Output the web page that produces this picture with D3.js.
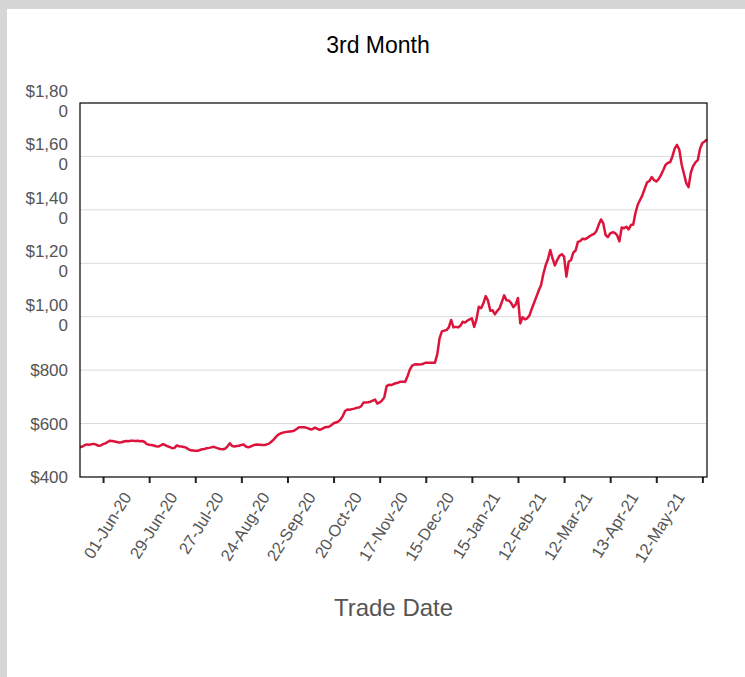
<!DOCTYPE html>
<head>
<meta charset="utf-8">
<style>
body { margin: 0; background: #d6d6d6; }
text { font-family: "Liberation Sans", Arial, sans-serif; }
.grid line { stroke: #dadada; stroke-width: 1px; }
.ylab { fill: #555; font-size: 17px; }
.xlab { fill: #555; font-size: 16.5px; }
</style>
</head>
<body>
<div id="mainDiv" style="width: 745px; height: 677px;">
<script src="https://d3js.org/d3.v7.min.js"></script>
<script>

var width = 745;
var height = 677;

// price per trading day
var prices = [
  511, 514, 519, 522, 521, 523, 524, 521, 517, 518,
  523, 526, 531, 536, 535, 533, 531, 529, 530, 533,
  535, 534, 536, 536, 535, 536, 534, 535, 531, 523,
  521, 520, 518, 515, 514, 518, 523, 519, 515, 512,
  508, 509, 518, 515, 514, 512, 510, 504, 500, 499,
  498, 498, 501, 504, 505, 508, 509, 511, 513, 510,
  507, 505, 504, 506, 515, 526, 516, 514, 516, 517,
  520, 522, 514, 511, 514, 518, 521, 522, 521, 520,
  520, 522, 525, 532, 540, 550, 558, 563, 566, 568,
  569, 570, 571, 574, 580, 586, 586, 586, 585, 582,
  578, 580, 585, 580, 576, 580, 585, 587, 588, 594,
  601, 604, 607, 615, 628, 647, 653, 652, 654, 656,
  659, 660, 665, 679, 679, 680, 682, 686, 690, 675,
  679, 686, 698, 740, 745, 744, 748, 751, 753, 757,
  757, 756, 775, 800, 816, 821, 822, 821, 822, 824,
  828, 828, 828, 828, 828, 860, 920, 945, 948, 950,
  960, 988, 960, 962, 960, 966, 981, 978, 985, 990,
  994, 962, 990, 1037, 1032, 1050, 1077, 1060, 1022, 1024,
  1009, 1022, 1031, 1055, 1080, 1062, 1061, 1052, 1036, 1045,
  1070, 975, 998, 990, 994, 1005, 1030, 1052, 1075, 1098,
  1118, 1160, 1192, 1215, 1250, 1218, 1192, 1212, 1228, 1234,
  1225, 1150, 1206, 1212, 1240, 1248, 1280, 1283, 1292, 1290,
  1294, 1301, 1306, 1310, 1320, 1344, 1364, 1350, 1306, 1298,
  1312, 1316, 1314, 1305, 1282, 1334, 1331, 1337, 1327, 1343,
  1345, 1390, 1420, 1438, 1455, 1480, 1503, 1508, 1523, 1512,
  1506, 1515, 1530, 1548, 1568, 1576, 1578, 1600, 1630, 1643,
  1625, 1570, 1535, 1500, 1485, 1540, 1564, 1578, 1586, 1630,
  1650, 1656, 1664
];

// category axis: a labelled tick every 20 trading days
var tickIndex = [10, 30, 50, 70, 90, 110, 130, 150, 170, 190, 210, 230, 250, 270];
var tickLabels = ["01-Jun-20", "29-Jun-20", "27-Jul-20", "24-Aug-20", "22-Sep-20", "20-Oct-20",
  "17-Nov-20", "15-Dec-20", "15-Jan-21", "12-Feb-21", "12-Mar-21", "13-Apr-21", "12-May-21", ""];

var yTicks = [400, 600, 800, 1000, 1200, 1400, 1600, 1800];

var plotL = 80, plotR = 707, plotT = 103, plotB = 477;

var svg = d3.select("#mainDiv").append("svg")
    .attr("width", width)
    .attr("height", height);

svg.append("rect")
    .attr("x", 7).attr("y", 9)
    .attr("width", width - 7).attr("height", height - 9)
    .style("fill", "white");

var x = d3.scaleLinear().domain([0, prices.length - 1]).range([plotL, plotR]);
var y = d3.scaleLinear().domain([400, 1800]).range([plotB, plotT]);

// gridlines
svg.append("g")
    .attr("class", "grid")
    .selectAll("line")
    .data(yTicks.filter(function(d) { return d > 400 && d < 1800; }))
    .enter().append("line")
    .attr("x1", plotL).attr("x2", plotR)
    .attr("y1", function(d) { return y(d); })
    .attr("y2", function(d) { return y(d); });

// y labels, the long ones wrap onto two lines like the original
var fmt = d3.format("$,");
var ylab = svg.append("g").selectAll("text")
    .data(yTicks)
    .enter().append("text")
    .attr("class", "ylab")
    .attr("text-anchor", "end")
    .attr("x", plotL - 12)
    .attr("y", function(d) { return y(d); });

ylab.each(function(d) {
  var s = fmt(d);
  var t = d3.select(this);
  if (s.length > 4) {
    t.append("tspan").attr("x", plotL - 12).attr("dy", -6).text(s.slice(0, -1));
    t.append("tspan").attr("x", plotL - 12).attr("dy", 20).text(s.slice(-1));
  } else {
    t.attr("dy", 6).text(s);
  }
});

// x ticks
var xAxis = d3.axisBottom(x)
    .tickValues(tickIndex)
    .tickSize(6)
    .tickFormat("");

svg.append("g")
    .attr("transform", "translate(0," + plotB + ")")
    .call(xAxis)
    .call(function(g) {
      g.select(".domain").remove();
      g.selectAll(".tick line").style("stroke", "#222").style("stroke-width", 2);
    });

svg.append("g").selectAll("text")
    .data(tickIndex)
    .enter().append("text")
    .attr("class", "xlab")
    .attr("text-anchor", "end")
    .attr("transform", function(d) {
      return "translate(" + (x(d) + 29) + "," + (plotB + 20) + ")rotate(-58)";
    })
    .text(function(d, i) { return tickLabels[i]; });

// the price line
var line = d3.line()
    .x(function(d, i) { return x(i); })
    .y(function(d) { return y(d); });

svg.append("path")
    .datum(prices)
    .attr("d", line)
    .style("fill", "none")
    .style("stroke", "#dc143c")
    .style("stroke-width", 2.5)
    .style("stroke-linejoin", "round");

// plot frame
svg.append("rect")
    .attr("x", plotL).attr("y", plotT)
    .attr("width", plotR - plotL).attr("height", plotB - plotT)
    .style("fill", "none")
    .style("stroke", "black")
    .style("stroke-width", 1.2);

svg.append("text")
    .attr("x", 378).attr("y", 53)
    .attr("text-anchor", "middle")
    .style("font-size", "23px")
    .style("fill", "black")
    .text("3rd Month");

svg.append("text")
    .attr("x", (plotL + plotR) / 2).attr("y", 616)
    .attr("text-anchor", "middle")
    .style("font-size", "24px")
    .style("fill", "#555")
    .text("Trade Date");

</script>
</div>
</body>
</html>
